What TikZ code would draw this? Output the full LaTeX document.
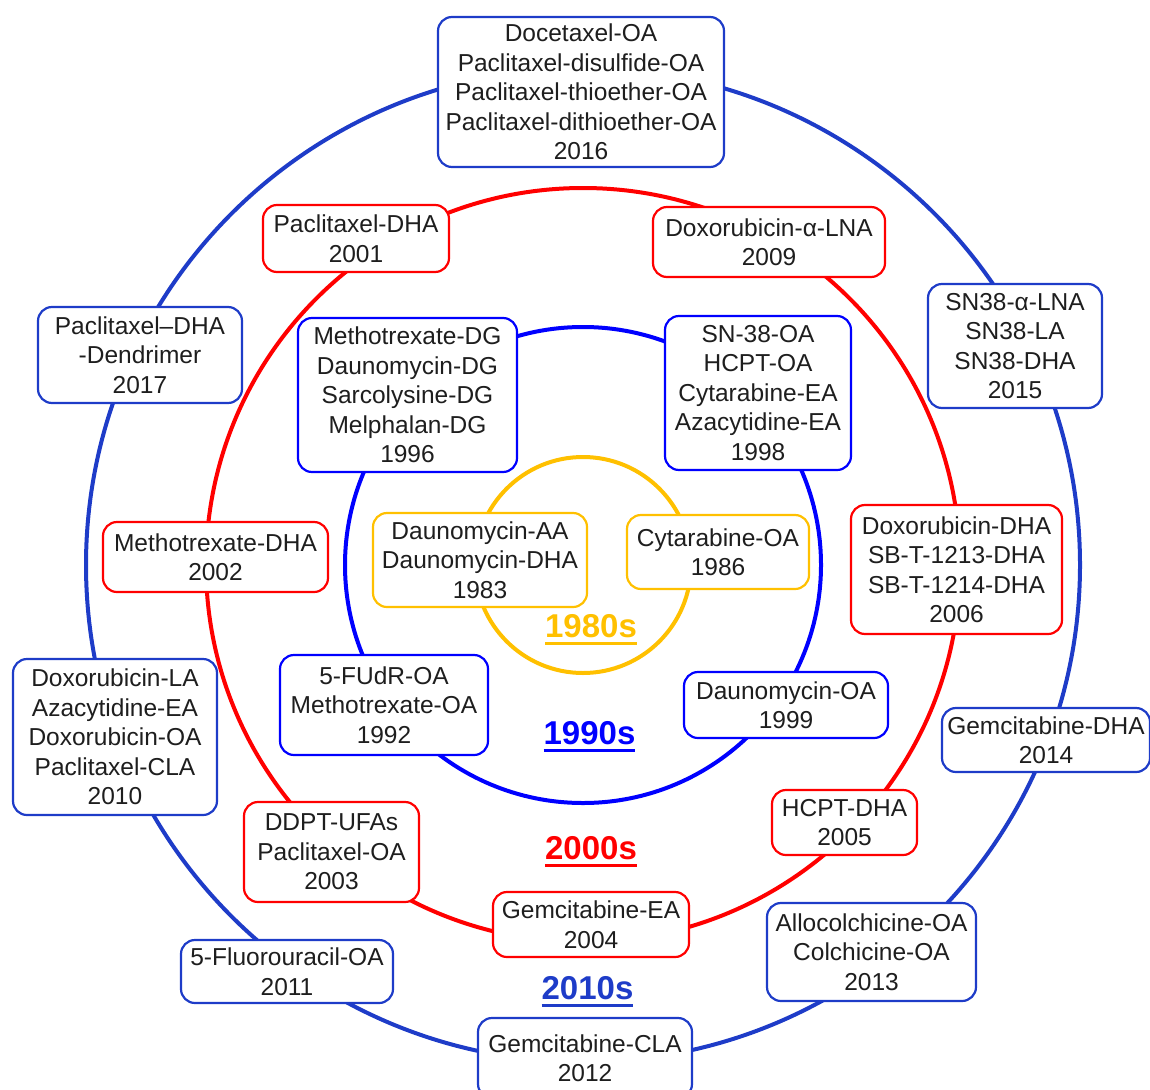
\documentclass[tikz,border=0pt]{standalone}
\usepackage{fontspec}
\setmainfont{Liberation Sans}

\definecolor{ringdark}{HTML}{1E3CC8}
\definecolor{ringblue}{HTML}{0000FF}
\definecolor{ringred}{HTML}{FF0000}
\definecolor{ringgold}{HTML}{FFC000}
\definecolor{inktext}{HTML}{1E1E1E}

% bold decade label with a thick underline
\newcommand\decadeul[1]{\setbox0=\hbox{#1}\rlap{\rule[-7.5pt]{\wd0}{3pt}}\box0}

\tikzset{
  entry/.style={draw, rounded corners=14pt, fill=white, line width=2.2pt,
    align=center, text=inktext, inner sep=0pt,
    font=\fontsize{24.5}{29.5}\selectfont},
  darkbox/.style={entry, draw=ringdark},
  bluebox/.style={entry, draw=ringblue},
  redbox/.style={entry, draw=ringred},
  goldbox/.style={entry, draw=ringgold},
  ring/.style={line width=4pt},
  decade/.style={anchor=base, inner sep=0pt, font=\fontsize{33}{36}\selectfont\bfseries}
}

\begin{document}
\begin{tikzpicture}[x=1pt, y=-1pt]
  \useasboundingbox (0,0) rectangle (1150,1089);
  \clip (0,0) rectangle (1150,1089);

  % the four decade rings
  \coordinate (hub) at (583,565);
  \draw[ring, ringdark] (hub) circle[radius=497pt];
  \draw[ring, ringred]  (hub) circle[radius=377pt];
  \draw[ring, ringblue] (hub) circle[radius=238pt];
  \draw[ring, ringgold] (hub) circle[radius=108pt];

  % 2010s
  \node[darkbox, minimum width=286pt, minimum height=150pt] (y2016) at (581,92)
    {Docetaxel-OA\\Paclitaxel-disulfide-OA\\Paclitaxel-thioether-OA\\Paclitaxel-dithioether-OA\\2016};
  \node[darkbox, minimum width=204pt, minimum height=96pt] (y2017) at (140,355)
    {Paclitaxel–DHA\\-Dendrimer\\2017};
  \node[darkbox, minimum width=174pt, minimum height=124pt] (y2015) at (1015,346)
    {SN38-α-LNA\\SN38-LA\\SN38-DHA\\2015};
  \node[darkbox, minimum width=204pt, minimum height=156pt] (y2010) at (115,737)
    {Doxorubicin-LA\\Azacytidine-EA\\Doxorubicin-OA\\Paclitaxel-CLA\\2010};
  \node[darkbox, minimum width=208pt, minimum height=64pt] (y2014) at (1046,740)
    {Gemcitabine-DHA\\2014};
  \node[darkbox, minimum width=209pt, minimum height=98pt] (y2013) at (871.5,952)
    {Allocolchicine-OA\\Colchicine-OA\\2013};
  \node[darkbox, minimum width=212pt, minimum height=63pt] (y2011) at (287,971.5)
    {5-Fluorouracil-OA\\2011};
  \node[darkbox, minimum width=214pt, minimum height=80pt] (y2012) at (585,1058)
    {Gemcitabine-CLA\\2012};

  % 2000s
  \node[redbox, minimum width=186pt, minimum height=67pt] (y2001) at (356,238.5)
    {Paclitaxel-DHA\\2001};
  \node[redbox, minimum width=232pt, minimum height=70pt] (y2009) at (769,242)
    {Doxorubicin-α-LNA\\2009};
  \node[redbox, minimum width=225pt, minimum height=70pt] (y2002) at (215.5,557)
    {Methotrexate-DHA\\2002};
  \node[redbox, minimum width=211pt, minimum height=129pt] (y2006) at (956.5,569.5)
    {Doxorubicin-DHA\\SB-T-1213-DHA\\SB-T-1214-DHA\\2006};
  \node[redbox, minimum width=175pt, minimum height=100pt] (y2003) at (331.5,852)
    {DDPT-UFAs\\Paclitaxel-OA\\2003};
  \node[redbox, minimum width=145pt, minimum height=65pt] (y2005) at (844.5,822.5)
    {HCPT-DHA\\2005};
  \node[redbox, minimum width=196pt, minimum height=65pt] (y2004) at (591,924.5)
    {Gemcitabine-EA\\2004};

  % 1990s
  \node[bluebox, minimum width=219pt, minimum height=154pt] (y1996) at (407.5,395)
    {Methotrexate-DG\\Daunomycin-DG\\Sarcolysine-DG\\Melphalan-DG\\1996};
  \node[bluebox, minimum width=186pt, minimum height=154pt] (y1998) at (758,393)
    {SN-38-OA\\HCPT-OA\\Cytarabine-EA\\Azacytidine-EA\\1998};
  \node[bluebox, minimum width=208pt, minimum height=100pt] (y1992) at (384,705)
    {5-FUdR-OA\\Methotrexate-OA\\1992};
  \node[bluebox, minimum width=204pt, minimum height=66pt] (y1999) at (786,705)
    {Daunomycin-OA\\1999};

  % 1980s
  \node[goldbox, minimum width=214pt, minimum height=94pt] (y1983) at (480,560)
    {Daunomycin-AA\\Daunomycin-DHA\\1983};
  \node[goldbox, minimum width=182pt, minimum height=74pt] (y1986) at (718,552)
    {Cytarabine-OA\\1986};

  % decade labels
  \node[decade, text=ringgold] (d1980) at (591,637)   {\decadeul{1980s}};
  \node[decade, text=ringblue] (d1990) at (589.5,744) {\decadeul{1990s}};
  \node[decade, text=ringred]  (d2000) at (591,859)   {\decadeul{2000s}};
  \node[decade, text=ringdark] (d2010) at (587.5,999) {\decadeul{2010s}};
\end{tikzpicture}
\end{document}
